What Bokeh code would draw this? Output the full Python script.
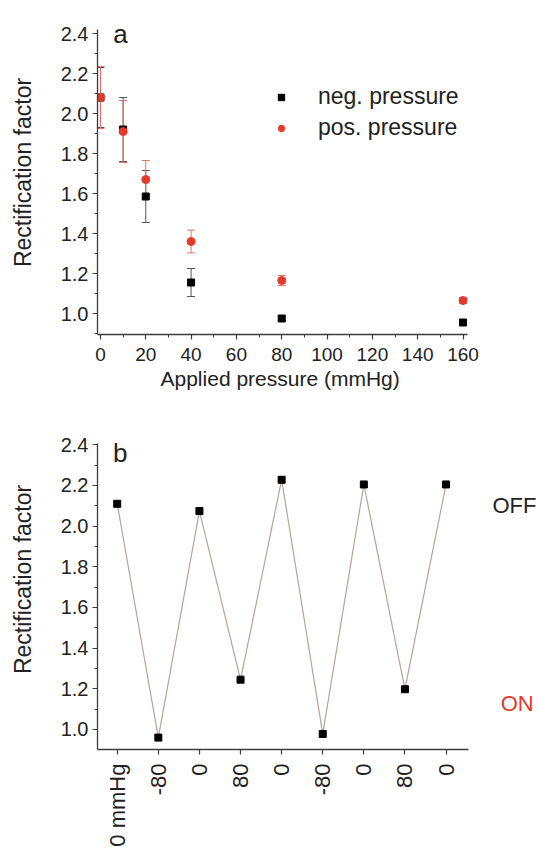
import math
from bokeh.plotting import figure
from bokeh.layouts import column
from bokeh.models import (ColumnDataSource, Whisker, TeeHead, Legend, LegendItem, Label, Title,
                          SingleIntervalTicker, FixedTicker, PrintfTickFormatter, Range1d)
from bokeh.embed import file_html
from bokeh.resources import INLINE

# ---------------- data ----------------
# panel a
pressure = [0, 10, 20, 40, 80, 160]
neg_rf = [2.08, 1.92, 1.585, 1.155, 0.975, 0.955]
neg_err = [0.15, 0.16, 0.13, 0.07, 0.01, 0.01]
pos_rf = [2.08, 1.91, 1.67, 1.36, 1.165, 1.065]
pos_err = [0.155, 0.155, 0.095, 0.057, 0.025, 0.015]

# panel b
cycle_idx = [0, 1, 2, 3, 4, 5, 6, 7, 8]
cycle_labels = ["0 mmHg", "-80", "0", "80", "0", "-80", "0", "80", "0"]
cycle_rf = [2.11, 0.96, 2.074, 1.245, 2.228, 0.978, 2.205, 1.198, 2.205]

FONT = "Liberation Sans"
AXIS_COL = "#3c3c3c"
RED = "#e33a2c"

def style(p):
    p.background_fill_color = "white"
    p.border_fill_color = "white"
    p.outline_line_color = None
    p.xgrid.grid_line_color = None
    p.ygrid.grid_line_color = None
    for ax in (p.xaxis[0], p.yaxis[0]):
        ax.axis_line_color = AXIS_COL
        ax.axis_line_width = 1.3
        ax.major_tick_line_color = AXIS_COL
        ax.minor_tick_line_color = AXIS_COL
        ax.major_tick_line_width = 1.2
        ax.minor_tick_line_width = 1.0
        ax.major_tick_out = 5
        ax.major_tick_in = 0
        ax.minor_tick_out = 3
        ax.minor_tick_in = 0
        ax.major_label_text_font = FONT
        ax.major_label_text_color = "#222222"
        ax.axis_label_text_font = FONT
        ax.axis_label_text_font_style = "normal"
        ax.axis_label_text_color = "#222222"

# frames of both panels: x from 97 px to the right page edge (443 px wide)
# ---------------- panel a ----------------
pa = figure(width=540, height=404, output_backend="svg", toolbar_location=None,
            x_range=Range1d(-1.3, 194.2), y_range=Range1d(0.895, 2.515),
            min_border_left=97, min_border_right=0, min_border_top=10, min_border_bottom=70)
style(pa)
pa.xaxis.bounds = (-1.3, 162)
pa.yaxis.bounds = (0.895, 2.42)
pa.xaxis.ticker = SingleIntervalTicker(interval=20, num_minor_ticks=2)
pa.yaxis.ticker = SingleIntervalTicker(interval=0.2, num_minor_ticks=2)
pa.yaxis.formatter = PrintfTickFormatter(format="%.1f")
pa.yaxis.major_label_text_font_size = "20px"
pa.xaxis.major_label_text_font_size = "19px"
pa.yaxis.major_label_standoff = 4
pa.xaxis.major_label_standoff = 8
pa.yaxis.axis_label = "Rectification factor"
pa.yaxis.axis_label_text_font_size = "23px"
pa.yaxis.axis_label_standoff = 22
pa.add_layout(Title(text="Applied pressure (mmHg)", align="left", offset=63, standoff=3,
                    text_font=FONT, text_font_size="21px", text_font_style="normal",
                    text_color="#222222"), "below")

neg_src = ColumnDataSource(dict(x=pressure, y=neg_rf,
                                lo=[v - e for v, e in zip(neg_rf, neg_err)],
                                hi=[v + e for v, e in zip(neg_rf, neg_err)]))
pos_src = ColumnDataSource(dict(x=pressure, y=pos_rf,
                                lo=[v - e for v, e in zip(pos_rf, pos_err)],
                                hi=[v + e for v, e in zip(pos_rf, pos_err)]))

pa.add_layout(Whisker(source=neg_src, base="x", lower="lo", upper="hi", dimension="height",
                      line_color="#555555", line_width=1,
                      lower_head=TeeHead(size=8, line_color="#555555", line_width=1),
                      upper_head=TeeHead(size=8, line_color="#555555", line_width=1)))
pa.add_layout(Whisker(source=pos_src, base="x", lower="lo", upper="hi", dimension="height",
                      line_color="#e47466", line_width=1,
                      lower_head=TeeHead(size=8, line_color="#e47466", line_width=1),
                      upper_head=TeeHead(size=8, line_color="#e47466", line_width=1)))

r_neg = pa.scatter("x", "y", source=neg_src, marker="square", size=7,
                   fill_color="black", line_color="black")
r_pos = pa.scatter("x", "y", source=pos_src, marker="circle", size=8,
                   fill_color=RED, line_color=RED)

leg = Legend(items=[LegendItem(label="neg. pressure", renderers=[r_neg]),
                    LegendItem(label="pos. pressure", renderers=[r_pos])],
             location=(176, 193), padding=0, margin=0, spacing=4,
             glyph_width=16, glyph_height=16, label_height=26, label_standoff=29,
             label_text_font=FONT, label_text_font_size="23px", label_text_color="#222222",
             border_line_alpha=0, background_fill_alpha=0)
pa.add_layout(leg)

pa.add_layout(Label(x=5.7, y=2.4, text="a", text_font=FONT, text_font_size="26px",
                    text_color="#222222", text_baseline="alphabetic"))

# ---------------- panel b ----------------
pb = figure(width=540, height=450, output_backend="svg", toolbar_location=None,
            x_range=Range1d(-0.48, 10.298), y_range=Range1d(0.9016, 2.5736),
            min_border_left=97, min_border_right=0, min_border_top=5, min_border_bottom=105)
style(pb)
pb.xaxis.bounds = (-0.48, 8.55)
pb.yaxis.bounds = (0.9016, 2.408)
pb.xaxis.ticker = FixedTicker(ticks=cycle_idx, minor_ticks=[])
pb.xaxis.major_label_overrides = {i: s for i, s in zip(cycle_idx, cycle_labels)}
pb.xaxis.major_label_orientation = math.pi / 2
pb.xaxis.major_label_text_font_size = "22px"
pb.xaxis.major_label_standoff = 9
pb.yaxis.ticker = SingleIntervalTicker(interval=0.2, num_minor_ticks=2)
pb.yaxis.formatter = PrintfTickFormatter(format="%.1f")
pb.yaxis.major_label_text_font_size = "20px"
pb.yaxis.major_label_standoff = 4
pb.yaxis.axis_label = "Rectification factor"
pb.yaxis.axis_label_text_font_size = "23px"
pb.yaxis.axis_label_standoff = 22

cyc_src = ColumnDataSource(dict(x=cycle_idx, y=cycle_rf))
pb.line("x", "y", source=cyc_src, line_color="#b3a49e", line_width=1.2)
pb.scatter("x", "y", source=cyc_src, marker="square", size=7,
           fill_color="black", line_color="black")

pb.add_layout(Label(x=-0.1, y=2.362, text="b", text_font=FONT, text_font_size="26px",
                    text_color="#222222", text_baseline="alphabetic"))
pb.add_layout(Label(x=9.13, y=2.102, text="OFF", text_font=FONT, text_font_size="22px",
                    text_color="#222222", text_baseline="middle"))
pb.add_layout(Label(x=9.33, y=1.128, text="ON", text_font=FONT, text_font_size="22px",
                    text_color=RED, text_baseline="middle"))

layout = column(pa, pb, spacing=0)
open("out.html", "w").write(file_html(layout, INLINE))
